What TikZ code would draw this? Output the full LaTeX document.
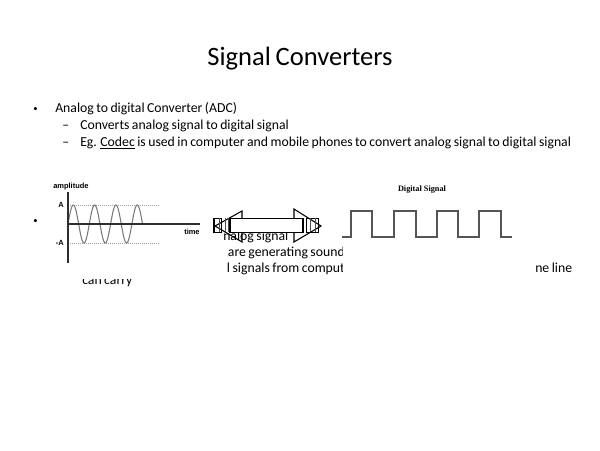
\documentclass[tikz,border=0pt]{standalone}
\usepackage{fontspec}
\setmainfont{Carlito}[WordSpace=0.8]
\newfontfamily\plotfont{Liberation Sans}
\newfontfamily\scanfont{Liberation Serif}
\usetikzlibrary{positioning}
\definecolor{WaveGray}{HTML}{7A7A7A}
\definecolor{AxisGray}{HTML}{2E2E2E}
\definecolor{PulseGray}{HTML}{555555}
\definecolor{GuideGray}{HTML}{A0A0A0}

\tikzset{
  slidetext/.style={anchor=base west, inner sep=0pt, font=\fontsize{10.3}{12}\selectfont},
  plotlabel/.style={inner sep=0pt, font=\plotfont\bfseries\fontsize{5.6}{6}\selectfont},
  arrowpart/.style={draw=black, line width=0.8pt},
}

\begin{document}
\begin{tikzpicture}[x=0.75pt, y=-0.75pt]
  \useasboundingbox (0,0) rectangle (600,450);

  % title and bullets
  \node (title) [anchor=base, inner sep=0pt, font=\fontsize{19.9}{22}\selectfont] at (300,65.5) {Signal Converters};
  \node (bulletA) [slidetext, font=\fontsize{6.5}{8}\selectfont] at (33,111) {•};
  \node (adc) [slidetext] at (55,112.3) {Analog to digital Converter (ADC)};
  \node (dashA) [slidetext] at (62,129.3) {–};
  \node (converts) [slidetext] at (80,129.3) {Converts analog signal to digital signal};
  \node (dashB) [slidetext] at (62,146) {–};
  \node (codec) [slidetext] at (80,146) {Eg. \underline{Codec} is used in computer and mobile phones to convert analog signal to digital signal};
  \node (bulletB) [slidetext, font=\fontsize{6.5}{8}\selectfont] at (33,223) {•};

  % leftover text pieces behind the pictures
  \begin{scope}
    \clip (223,200) rectangle (342,280);
    \node (fragA) [slidetext] at (223,240) {nalog signal};
    \node (fragB) [slidetext] at (227.7,256.3) {are generating sound};
    \node (fragC) [slidetext] at (226.7,272) {l signals from comput};
  \end{scope}
  \node (fragD) [slidetext] at (535,272.3) {ne line};
  \begin{scope}
    \clip (70,279) rectangle (150,292);
    \node (fragE) [slidetext] at (82,284.5) {can carry};
  \end{scope}

  % analog wave
  \draw[GuideGray, densely dotted, line width=0.5pt] (68,205) -- (160,205);
  \draw[GuideGray, densely dotted, line width=0.5pt] (68,243) -- (160,243);
  \draw[WaveGray, line width=0.8pt] plot[domain=0:74.5, samples=160, smooth] ({68+\x},{224-19*sin(\x*16.9014)});
  \draw[AxisGray, line width=1.2pt] (68,192) -- (68,263);
  \draw[AxisGray, line width=1.2pt] (68,224) -- (200,224);
  \node (amp) [plotlabel, anchor=base west] at (53,188.5) {amplitude};
  \node (ampA) [plotlabel, anchor=base east] at (64,207.5) {A};
  \node (ampB) [plotlabel, anchor=base east] at (64,245.5) {-A};
  \node (time) [plotlabel, anchor=base west] at (184,234) {time};

  % double arrow
  \draw[arrowpart] (242,211) -- (215,226) -- (242,242) -- cycle;
  \draw[arrowpart] (294,209) -- (321,226) -- (294,242) -- cycle;
  \draw[arrowpart, fill=white] (230,218.3) rectangle (303,232.3);
  \draw[arrowpart] (214,218.3) rectangle (221.7,232.3);
  \draw[arrowpart] (306.7,218.3) rectangle (318.3,232.3);
  \foreach \xpos in {219.3,225,228.3,310,315}
    \draw[black!70, line width=0.6pt] (\xpos,218.3) -- (\xpos,232.3);

  % digital signal
  \node (digital) [inner sep=0pt, font=\scanfont\bfseries\fontsize{6.2}{7}\selectfont] at (422,190) {Digital Signal};
  \draw[PulseGray, line width=0.9pt] (342,237) -- (351,237) -- (351,211) -- (372,211) -- (372,237)
    -- (394,237) -- (394,211) -- (416,211) -- (416,237) -- (437,237) -- (437,211)
    -- (458,211) -- (458,237) -- (479,237) -- (479,211) -- (501,211) -- (501,237) -- (512,237);
\end{tikzpicture}
\end{document}
